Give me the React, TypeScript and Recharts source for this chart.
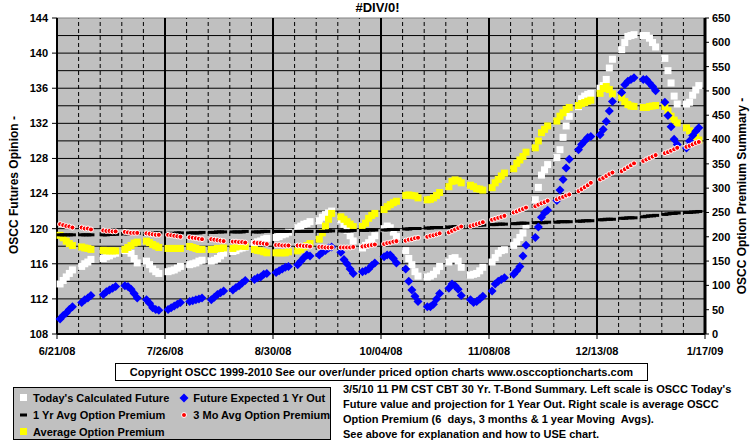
import { ScatterChart, Scatter, XAxis, YAxis, ReferenceLine, ReferenceArea } from "recharts";

const FONT = '"Liberation Sans", Arial, sans-serif';

// x axis: days counted from 6/21/08
const TICK_DAYS = [0, 35, 70, 105, 140, 175, 210];
const TICK_LABELS = ["6/21/08", "7/26/08", "8/30/08", "10/04/08", "11/08/08", "12/13/08", "1/17/09"];
const LEFT_TICKS = [108, 112, 116, 120, 124, 128, 132, 136, 140, 144];
const RIGHT_TICKS = [0, 50, 100, 150, 200, 250, 300, 350, 400, 450, 500, 550, 600, 650];

// one row per week, five trading days each (left scale)
const TODAY_FUTURE = [
  [113.7, 114.1, 114.5, 114.9, 115.3], [115.7, 116.0, 116.2, 116.5, null], [116.6, 116.8, 116.9, 117.1, 117.2],
  [117.5, 117.8, 117.2, 116.6, 116.1], [116.3, 115.9, 115.4, 115.1, 114.9], [115.1, 115.2, 115.3, 115.5, 115.7],
  [115.9, 116.0, 116.1, 116.3, 116.4], [116.3, 116.4, 116.6, 116.9, 117.2], [117.4, 117.5, 117.7, 117.8, 117.9],
  [118.3, 118.5, 118.6, 118.8, 118.9], [119.0, 119.1, 119.3, 119.4, 119.6], [120.1, 120.3, 120.5, 120.6, 120.8],
  [120.9, 121.3, 121.6, 121.8, 122.0], [121.0, 120.5, 119.8, 119.2, 118.6], [117.8, 118.1, 118.4, 118.8, 119.2],
  [120.0, 120.3, 120.1, 119.6, 119.1], [117.5, 116.6, 115.9, 115.1, 114.6], [114.5, 114.6, 114.8, 115.2, 115.7],
  [116.2, 116.6, 116.7, 116.3, 115.6], [114.7, 114.8, 114.9, 115.2, 115.6], [116.2, 116.7, 117.2, 117.5, 117.6],
  [118.1, 118.5, 119.0, 119.5, 120.4], [123.3, 124.7, 126.1, 126.7, 127.3], [128.1, 129.0, 130.4, 131.7, 132.8],
  [133.9, 134.8, 135.1, 135.3, 135.4], [136.0, 136.3, 137.0, 138.3, 139.3], [140.4, 141.2, 141.9, 142.0, 142.1],
  [142.0, 142.0, 141.7, 141.2, 140.7], [139.4, 138.0, 136.6, 135.1, 134.2], [134.2, 134.4, 135.2, 135.8, 136.3],
];

const FUTURE_1YR = [
  [109.7, 110.1, 110.4, 110.8, 111.1], [111.6, 111.9, 112.1, 112.4, null], [112.5, 112.8, 113.0, 113.2, 113.4],
  [113.5, 113.4, 113.1, 112.6, 112.1], [111.9, 111.5, 111.0, 110.8, 110.7], [110.8, 111.0, 111.2, 111.4, 111.6],
  [111.7, 111.8, 111.9, 112.0, 112.1], [111.9, 112.2, 112.5, 112.7, 112.9], [113.0, 113.3, 113.5, 113.8, 114.1],
  [114.2, 114.4, 114.5, 114.8, 114.9], [115.0, 115.2, 115.4, 115.6, 115.7], [115.9, 116.3, 116.7, 117.0, 116.9],
  [117.0, 117.3, 117.5, 117.8, 117.9], [117.3, 116.5, 116.0, 115.4, 114.9], [115.1, 115.2, 115.4, 115.8, 116.1],
  [116.8, 117.0, 117.0, 116.6, 116.1], [115.4, 114.0, 113.0, 112.3, 111.7], [111.1, 111.1, 111.4, 112.0, 112.6],
  [113.2, 113.7, 113.5, 113.1, 112.4], [111.9, 111.6, 111.7, 112.0, 112.3], [112.9, 113.7, 114.0, 114.2, 114.4],
  [114.8, 115.2, 115.7, 116.9, 118.1], [119.0, 120.2, 121.3, 121.8, 122.1], [123.2, 124.4, 125.6, 126.9, 127.9],
  [129.0, 129.6, 130.0, 130.4, 130.5], [130.7, 131.3, 132.2, 133.4, 134.5], [135.5, 136.4, 136.8, 137.0, 137.2],
  [137.0, 137.0, 136.6, 136.2, 135.7], [134.4, 132.9, 131.6, 130.2, 129.6], [129.2, 130.0, 130.6, 131.1, 131.5],
];

// right scale
const AVG_1YR = [
  [204, 204, 204, 204, 204], [204, 204, 204, 204, null], [204, 204, 205, 205, 205], [206, 206, 207, 207, 207],
  [207, 208, 208, 208, 208], [207, 207, 207, 208, 208], [208, 208, 208, 208, 209], [209, 209, 210, 210, 210],
  [210, 210, 210, 210, 211], [210, 210, 210, 211, 211], [211, 211, 211, 211, 211], [211, 211, 211, 211, 211],
  [211, 211, 211, 212, 212], [212, 212, 212, 212, 213], [213, 213, 214, 214, 214], [214, 214, 215, 215, 215],
  [216, 216, 217, 217, 217], [218, 218, 219, 219, 219], [220, 220, 221, 221, 221], [222, 223, 223, 224, 224],
  [225, 225, 226, 226, 226], [227, 227, 228, 228, 228], [229, 229, 229, 229, 230], [230, 231, 231, 231, 231],
  [232, 232, 233, 233, 233], [235, 235, 236, 236, 236], [238, 238, 239, 239, 239], [241, 242, 243, 243, 244],
  [246, 247, 248, 248, 249], [250, 250, 251, 251, 252],
];

const AVG_3MO = [
  [226, 224, 222, 221, 219], [219, 217, 217, 215, null], [213, 212, 212, 211, 211], [210, 209, 208, 208, 208],
  [207, 206, 205, 204, 204], [204, 203, 202, 201, 200], [199, 198, 197, 196, 195], [195, 194, 193, 192, 191],
  [190, 190, 189, 189, 188], [188, 187, 187, 186, 185], [183, 183, 182, 182, 182], [182, 182, 181, 181, 180],
  [179, 179, 178, 178, 178], [178, 178, 178, 178, 179], [180, 181, 182, 183, 184], [185, 187, 188, 190, 191],
  [192, 194, 195, 197, 198], [200, 202, 203, 205, 207], [209, 212, 215, 218, 221], [222, 224, 226, 228, 230],
  [235, 237, 239, 241, 243], [250, 252, 255, 257, 260], [263, 266, 269, 271, 274], [277, 280, 282, 285, 287],
  [294, 298, 302, 306, 311], [318, 321, 325, 329, 332], [335, 339, 343, 347, 351], [356, 359, 362, 365, 368],
  [372, 374, 377, 380, 383], [385, 387, 390, 393, 395],
];

const AVG_PREMIUM = [
  [203, 198, 191, 186, 182], [179, 177, 176, 174, null], [172, 171, 171, 171, 171], [174, 178, 182, 187, 189],
  [191, 188, 184, 181, 178], [176, 176, 176, 176, 176], [180, 178, 176, 174, 174], [174, 174, 176, 176, 177],
  [176, 179, 181, 181, 180], [174, 172, 171, 169, 167], [167, 167, 167, 167, 169], [171, 174, 179, 182, 186],
  [195, 208, 222, 236, 248], [241, 236, 231, 226, 221], [221, 228, 238, 244, 248], [256, 262, 266, 270, 273],
  [285, 286, 285, 284, 280], [276, 277, 280, 285, 291], [303, 314, 317, 315, 311], [306, 303, 299, 298, 296],
  [301, 311, 318, 325, 331], [340, 351, 358, 365, 374], [383, 397, 414, 421, 428], [438, 448, 455, 462, 466],
  [470, 474, 476, 479, 481], [495, 505, 509, 503, 494], [486, 478, 472, 469, 468], [466, 466, 468, 469, 470],
  [468, 459, 448, 440, 434], [424, 418, 411, 405, 399],
];

function toPoints(weeks: (number | null)[][]) {
  const pts: { x: number; y: number }[] = [];
  weeks.forEach((week, w) =>
    week.forEach((v, i) => {
      if (v != null) pts.push({ x: w * 7 + 1 + i, y: v });
    })
  );
  return pts;
}

const square = (fill: string) => (p: any) =>
  <rect x={p.cx - 3.5} y={p.cy - 3.5} width={7} height={7} fill={fill} />;
const diamond = (p: any) => (
  <polygon points={`${p.cx},${p.cy - 4.5} ${p.cx + 4.5},${p.cy} ${p.cx},${p.cy + 4.5} ${p.cx - 4.5},${p.cy}`} fill="#0000FF" />
);
const dash = (p: any) => <rect x={p.cx - 3.5} y={p.cy - 1.5} width={7} height={3} fill="#000" />;
const dot = (p: any) => <circle cx={p.cx} cy={p.cy} r={2.5} fill="#FF0000" stroke="#fff" strokeWidth={1} />;

const weekLines: number[] = [];
for (let d = 7; d < 210; d += 7) weekLines.push(d);
const hLines: number[] = [];
for (let v = 110; v < 144; v += 2) hLines.push(v);

const tickStyle = { fill: "#000", fontSize: 11, fontWeight: "bold", fontFamily: FONT };
const txt = { position: "absolute" as const, fontFamily: FONT, fontWeight: "bold" as const, fontSize: 11, color: "#000", whiteSpace: "pre" as const };

function LegendItem({ marker, label }: { marker: React.ReactNode; label: string }) {
  return (
    <div style={{ display: "flex", alignItems: "center", height: 17 }}>
      <svg width={12} height={12} style={{ marginRight: 3 }}>{marker}</svg>
      <span>{label}</span>
    </div>
  );
}

export default function App() {
  return (
    <div style={{ position: "absolute", left: 0, top: 0, width: 755, height: 446, background: "#fff", fontFamily: FONT }}>
      <ScatterChart width={755} height={446} margin={{ top: 18, right: 0, bottom: 82, left: 0 }}>
        <XAxis
          type="number"
          dataKey="x"
          domain={[0, 210]}
          ticks={TICK_DAYS}
          interval={0}
          tickFormatter={(v: number) => TICK_LABELS[TICK_DAYS.indexOf(v)]}
          height={30}
          tickSize={5}
          tickMargin={8}
          tick={tickStyle}
          axisLine={{ stroke: "#000", strokeWidth: 2 }}
          tickLine={{ stroke: "#000" }}
        />
        <YAxis
          yAxisId="L"
          type="number"
          dataKey="y"
          domain={[108, 144]}
          ticks={LEFT_TICKS}
          interval={0}
          width={57}
          tickSize={5}
          tickMargin={4}
          tick={tickStyle}
          axisLine={{ stroke: "#000", strokeWidth: 2 }}
          tickLine={{ stroke: "#000" }}
        />
        <YAxis
          yAxisId="R"
          orientation="right"
          type="number"
          dataKey="y"
          domain={[0, 650]}
          ticks={RIGHT_TICKS}
          interval={0}
          width={50}
          tickSize={4}
          tickMargin={3}
          tick={tickStyle}
          axisLine={{ stroke: "#000", strokeWidth: 3 }}
          tickLine={{ stroke: "#000" }}
        />
        <ReferenceArea yAxisId="L" x1={0} x2={210} y1={108} y2={144} fill="#C0C0C0" fillOpacity={1} stroke="none" />
        {hLines.map((v) => (
          <ReferenceLine key={`h${v}`} yAxisId="L" y={v} stroke="#000" strokeWidth={1} />
        ))}
        <ReferenceLine yAxisId="L" y={144} stroke="#808080" strokeWidth={1} />
        {weekLines.map((d) => (
          <ReferenceLine
            key={`v${d}`}
            yAxisId="L"
            x={d}
            stroke="#000"
            strokeWidth={d % 35 === 0 ? 2 : 1}
            strokeDasharray={d % 35 === 0 ? undefined : "4 3"}
          />
        ))}
        <Scatter name="Today's Calculated Future" yAxisId="L" data={toPoints(TODAY_FUTURE)} shape={square("#FFFFFF")} isAnimationActive={false} />
        <Scatter name="Average Option Premium" yAxisId="R" data={toPoints(AVG_PREMIUM)} shape={square("#FFFF00")} isAnimationActive={false} />
        <Scatter name="1 Yr Avg Option Premium" yAxisId="R" data={toPoints(AVG_1YR)} shape={dash} isAnimationActive={false} />
        <Scatter name="Future Expected 1 Yr Out" yAxisId="L" data={toPoints(FUTURE_1YR)} shape={diamond} isAnimationActive={false} />
        <Scatter name="3 Mo Avg Option Premium" yAxisId="R" data={toPoints(AVG_3MO)} shape={dot} isAnimationActive={false} />
      </ScatterChart>

      <div style={{ ...txt, fontSize: 13, left: 0, width: 755, top: 0, textAlign: "center" }}>#DIV/0!</div>
      <div style={{ ...txt, fontSize: 12, left: 14, top: 185, transform: "translate(-50%, -50%) rotate(-90deg)" }}>
        OSCC Futures Opinion -
      </div>
      <div style={{ ...txt, fontSize: 12, left: 742, top: 196, transform: "translate(-50%, -50%) rotate(-90deg)" }}>
        OSCC Option Premium Summary -
      </div>

      <div style={{ ...txt, left: 115, top: 363, width: 531, height: 16, border: "1px solid #000", textAlign: "center", lineHeight: "16px" }}>
        Copyright OSCC 1999-2010 See our over/under priced option charts www.osccoptioncharts.com
      </div>

      <div style={{ ...txt, left: 13, top: 387, width: 318, height: 53, border: "1px solid #000", background: "#C0C0C0", padding: "1px 0 0 4px", boxSizing: "border-box" }}>
        <div style={{ display: "flex" }}>
          <div style={{ width: 162 }}>
            <LegendItem marker={<rect x={2} y={2} width={7} height={7} fill="#fff" />} label="Today's Calculated Future" />
            <LegendItem marker={<rect x={2} y={4.5} width={7} height={3} fill="#000" />} label="1 Yr Avg Option Premium" />
            <LegendItem marker={<rect x={2} y={2} width={7} height={7} fill="#FFFF00" />} label="Average Option Premium" />
          </div>
          <div>
            <LegendItem marker={<polygon points="6,1.5 10.5,6 6,10.5 1.5,6" fill="#0000FF" />} label="Future Expected 1 Yr Out" />
            <LegendItem marker={<circle cx={6} cy={6} r={2.5} fill="#FF0000" stroke="#fff" strokeWidth={1} />} label="3 Mo Avg Option Premium" />
          </div>
        </div>
      </div>

      <div style={{ ...txt, left: 343, top: 382, lineHeight: "15px" }}>
        {"3/5/10 11 PM CST CBT 30 Yr. T-Bond Summary. Left scale is OSCC Today's\nFuture value and projection for 1 Year Out. Right scale is average OSCC\nOption Premium (6  days, 3 months & 1 year Moving  Avgs).\nSee above for explanation and how to USE chart."}
      </div>
    </div>
  );
}
